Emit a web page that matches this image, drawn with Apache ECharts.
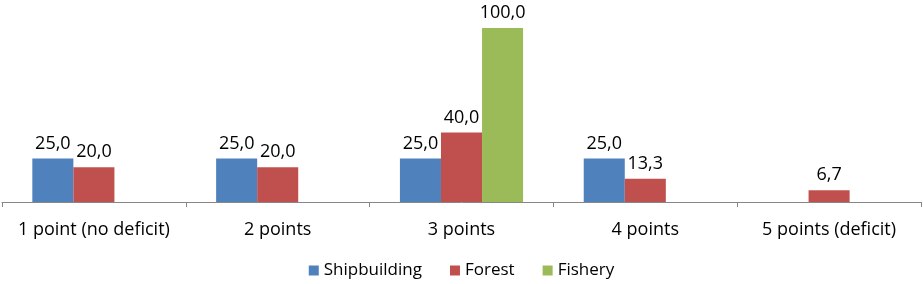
<!DOCTYPE html>
<html><head><meta charset="utf-8">
<script src="https://cdn.jsdelivr.net/npm/echarts@6/dist/echarts.min.js"></script>
<style>html,body{margin:0;padding:0;background:#fff}#c{width:923px;height:284px}</style>
</head><body><div id="c"></div>
<script>
const categories = ['1 point (no deficit)', '2 points', '3 points', '4 points', '5 points (deficit)'];
const seriesNames = ['Shipbuilding', 'Forest', 'Fishery'];
const shipbuilding = [25.0, 25.0, 25.0, 25.0, null];
const forest = [20.0, 20.0, 40.0, 13.3, 6.7];
const fishery = [null, null, 100.0, null, null];
const colors = ['#4F81BD', '#C0504D', '#9BBB59'];
const font = '"Open Sans", sans-serif';
const chart = echarts.init(document.getElementById('c'));
const mk = (name, data, color) => ({
  name, type: 'bar', data, barGap: '0%', barCategoryGap: '33%',
  itemStyle: { color },
  label: { show: true, position: 'top', distance: 6, color: '#000', fontFamily: font, fontSize: 18,
    formatter: p => p.value == null ? '' : Number(p.value).toFixed(1).replace('.', ',') }
});
chart.setOption({
  animation: false,
  textStyle: { fontFamily: font },
  grid: { left: 2, right: 2, top: 28, bottom: 82 },
  legend: { bottom: 0, left: 'center', itemWidth: 10, itemHeight: 10, itemGap: 28, icon: 'rect',
    textStyle: { fontFamily: font, fontSize: 17, color: '#000' }, data: seriesNames },
  xAxis: { type: 'category', data: categories,
    axisLine: { lineStyle: { color: '#868686', width: 1 } },
    axisTick: { show: true, length: 5, lineStyle: { color: '#868686' } },
    axisLabel: { color: '#000', fontFamily: font, fontSize: 18, margin: 19, interval: 0 } },
  yAxis: { type: 'value', min: 0, max: 100, show: false, splitLine: { show: false } },
  series: [mk(seriesNames[0], shipbuilding, colors[0]), mk(seriesNames[1], forest, colors[1]), mk(seriesNames[2], fishery, colors[2])]
});
</script></body></html>
